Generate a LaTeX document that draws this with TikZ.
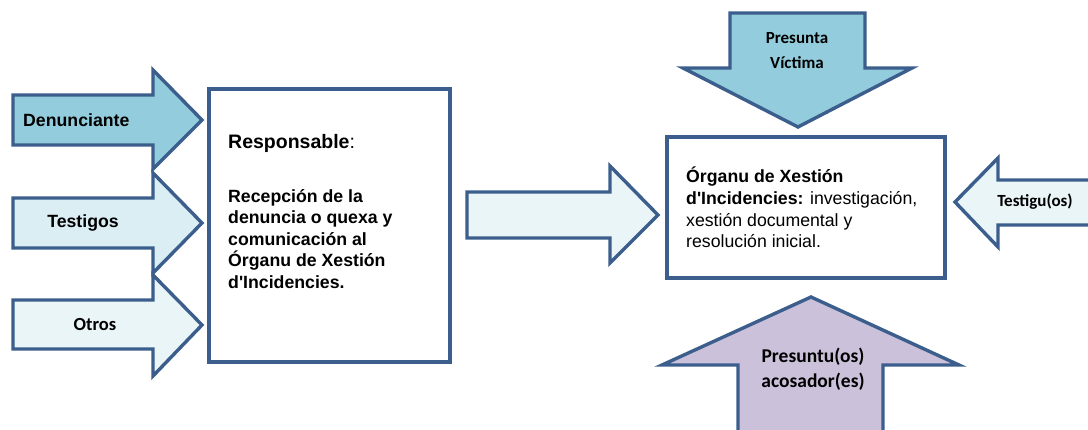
\documentclass[tikz,border=0pt]{standalone}
\usepackage{fontspec}
\setmainfont{Liberation Sans}
\newfontfamily\calibri{Carlito}
\usepackage{xcolor}
\usetikzlibrary{positioning}

\definecolor{arrowline}{HTML}{3B5E8C}
\definecolor{darkcyan}{HTML}{93CDDD}
\definecolor{palecyan}{HTML}{DBEEF4}
\definecolor{palercyan}{HTML}{EAF5F8}
\definecolor{lilac}{HTML}{CCC1DA}

\tikzset{
  blockarrow/.style={draw=arrowline, line width=3.4pt, line join=miter},
  panel/.style={draw=arrowline, line width=3.4pt, fill=white, inner sep=0pt},
  arialtxt/.style={inner sep=0pt, font=\fontsize{17.7}{21.5}\selectfont\bfseries},
  calitxt/.style={inner sep=0pt, align=center, font=\calibri\fontsize{17}{25}\selectfont\bfseries},
}

\begin{document}
\begin{tikzpicture}[x=1pt,y=-1pt]
  \useasboundingbox (0,0) rectangle (1088,430);
  \clip (0,0) rectangle (1088,430);

  % Arrows coming in from the left
  \draw[blockarrow, fill=darkcyan] (13,95) -- (153,95) -- (153,70) -- (202,120) -- (153,169) -- (153,145) -- (13,145) -- cycle;
  \draw[blockarrow, fill=palecyan] (13,198) -- (153,198) -- (153,173) -- (202,223) -- (153,273) -- (153,248) -- (13,248) -- cycle;
  \draw[blockarrow, fill=palercyan] (13,300) -- (153,300) -- (153,275) -- (202,325) -- (153,376) -- (153,349) -- (13,349) -- cycle;

  \node[arialtxt, anchor=west] (denun) at (23,120) {Denunciante};
  \node[arialtxt] (testigos) at (83,223) {Testigos};
  \node[calitxt, font=\calibri\fontsize{18.5}{22}\selectfont\bfseries] (otros) at (95,325) {Otros};

  % Responsable box
  \node[panel, minimum width=241pt, minimum height=273pt] (resp) at (329.5,225.5) {};
  \node[inner sep=0pt, anchor=west] (resptitle) at (228,143)
    {\fontsize{19.5}{23}\selectfont\textbf{Responsable}:};
  \node[arialtxt, align=left, anchor=north west] (respbody) at (228,189)
    {Recepción de la\\denuncia o quexa y\\comunicación al\\Órganu de Xestión\\d\textquotesingle Incidencies.};

  % Arrow in the middle
  \draw[blockarrow, fill=palercyan] (467,192) -- (610,192) -- (610,166) -- (658,215) -- (610,263) -- (610,238) -- (467,238) -- cycle;

  % Presunta victima, from the top
  \draw[blockarrow, fill=darkcyan] (730,13) -- (865,13) -- (865,68) -- (912,68) -- (798,127) -- (683,68) -- (730,68) -- cycle;
  \node[calitxt] (victima) at (797,50.5) {Presunta\\Víctima};

  % Organu de Xestion box
  \node[panel, minimum width=278pt, minimum height=141pt] (oxi) at (806,207.5) {};
  \node[inner sep=0pt, anchor=west, align=left, font=\fontsize{17.7}{21.7}\selectfont] (oxitxt) at (686,207.5)
    {\textbf{Órganu de Xestión}\\\textbf{d\textquotesingle Incidencies:} investigación,\\xestión documental y\\resolución inicial.};

  % Testigu(os), from the right
  \draw[blockarrow, fill=palercyan] (1100,180) -- (998,180) -- (998,158) -- (955,202) -- (998,247) -- (998,225) -- (1100,225) -- cycle;
  \node[calitxt] (testigu) at (1035,202) {Testigu(os)};

  % Presuntu acosador, from below
  \draw[blockarrow, fill=lilac] (738,440) -- (738,365) -- (662,365) -- (811,297) -- (959,365) -- (883,365) -- (883,440) -- cycle;
  \node[calitxt, font=\calibri\fontsize{19.5}{25}\selectfont\bfseries] (acosador) at (813,369.5) {Presuntu(os)\\acosador(es)};
\end{tikzpicture}
\end{document}
